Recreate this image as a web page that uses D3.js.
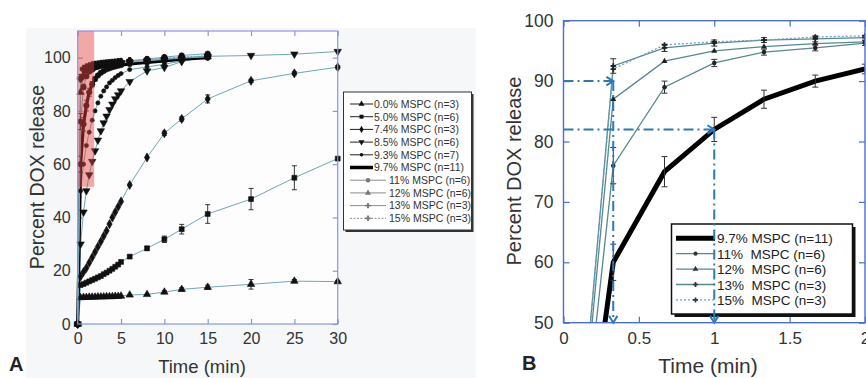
<!DOCTYPE html>
<html>
<head>
<meta charset="utf-8">
<script src="https://cdn.jsdelivr.net/npm/d3@7"></script>
<style>
  body { margin: 0; background: #fff; }
  svg { display: block; font-family: "Liberation Sans", Arial, sans-serif; }
</style>
</head>
<body>
<script>
// sampling times (min), panel B reuses the first seven
const timeA = [0, 0.33, 0.67, 1, 1.33, 1.67, 2, 2.33, 2.67, 3, 3.33, 3.67, 4, 4.33, 4.67, 5, 6, 8, 10, 12, 15, 20, 25, 30];

// percent DOX release per formulation
const mspc00 = [0, 9.9, 10, 10, 10.1, 10.1, 10.1, 10.2, 10.2, 10.2, 10.3, 10.3, 10.3, 10.4, 10.4, 10.5, 10.9, 11.1, 12, 13, 13.8, 14.9, 16.1, 15.9];
const mspc50 = [0, 14.6, 15, 15.5, 16, 16.5, 17, 17.5, 18, 18.7, 19.3, 20, 20.7, 21.5, 22.3, 23.3, 25.3, 28.4, 31.8, 35.6, 41.3, 46.9, 54.9, 62.1];
const mspc74 = [0, 17.8, 19.5, 21, 23, 25, 27, 29, 31, 33, 35, 37.5, 40, 42, 44, 46, 52.2, 62.5, 71.6, 77, 84.5, 91.3, 94.1, 96.4];
const mspc85 = [0, 30, 42, 50, 56, 61, 65, 69, 72.5, 75.5, 78, 80.5, 82.5, 84.5, 86, 87.5, 91, 95, 96.3, 98.5, 100.5, 100.8, 101.3, 102.3];
const mspc93 = [0, 50, 60, 67, 72, 76.5, 80, 83, 85.5, 87.5, 89, 90.5, 91.5, 92.5, 93.3, 94, 95.5, 96.5, 97.5, 98.8, 100];
const mspc97 = [0, 60, 75, 82, 87, 90, 92, 93.3, 94.3, 95, 95.6, 96, 96.4, 96.7, 97, 97.2, 97.6, 98.2, 98.8, 99.4, 100];
const mspc11 = [0, 76, 89, 93, 94.8, 95.5, 96.3, 96.6, 97, 97.3, 97.5, 97.7, 97.9, 98, 98.2, 98.4, 98.8, 99.5, 100.2, 100.8, 101.5];
const mspc12 = [0, 87, 93.3, 95, 95.7, 96.2, 96.5, 96.8, 97, 97.2, 97.4, 97.5, 97.7, 97.8, 97.9, 98, 98.3, 98.8, 99.3, 99.8, 100.3];
const mspc13 = [0, 92.5, 95.5, 96.3, 96.8, 97, 97.2, 97.4, 97.6, 97.7, 97.9, 98, 98.1, 98.2, 98.4, 98.5, 98.8, 99.2, 99.6, 100, 100.5];
const mspc15 = [0, 92, 96, 96.5, 96.8, 97.3, 97.5, 97.6, 97.8, 97.9, 98, 98.1, 98.2, 98.3, 98.4, 98.5, 98.8, 99.2, 99.8, 100.2, 100.8];

// error bar half-widths (0 = none drawn)
const err00 = [0, 0, 0, 0, 0, 0, 0, 0, 0, 0, 0, 0, 0, 0, 0, 0, 0, 0, 0.5, 0.6, 0.8, 1.8, 0.6, 0.5];
const err50 = [0, 0, 0, 0, 0, 0, 0, 0, 0, 0, 0, 0, 0, 0, 0, 0, 0.6, 0.8, 1.2, 1.8, 3.5, 4, 4.5, 0];
const err74 = [0, 0, 0, 0, 0, 0, 0, 0, 0, 0, 0, 0, 0, 0, 0, 0, 0, 0, 0.8, 0.8, 1.5, 0.6, 0.6, 0.6];
const err97 = [0, 3, 2.5, 2, 1.5, 1, 0.8];
const err11 = [0, 3, 1, 0.6, 0.5, 0.5, 0.4];
const err13 = [0, 1.2, 0.6, 0.5, 0.4, 0.5, 0.4];

const seriesNames = ["0.0% MSPC (n=3)", "5.0% MSPC (n=6)", "7.4% MSPC (n=3)", "8.5% MSPC (n=6)", "9.3% MSPC (n=7)",
                     "9.7% MSPC (n=11)", "11% MSPC (n=6)", "12% MSPC (n=6)", "13% MSPC (n=3)", "15% MSPC (n=3)"];
const legendB = ["9.7% MSPC (n=11)", "11%  MSPC (n=6)", "12%  MSPC (n=6)", "13%  MSPC (n=3)", "15%  MSPC (n=3)"];

const ticksAx = [0, 5, 10, 15, 20, 25, 30];
const ticksAy = [0, 20, 40, 60, 80, 100];
const ticksBx = [0, 0.5, 1, 1.5, 2];
const ticksBy = [50, 60, 70, 80, 90, 100];

// highlighted zoom window in panel A (data units)
const zoomBox = {t0: 0, t1: 1.9, y0: 51.5, y1: 110};
// annotation arrows in panel B: [t0, v0, t1, v1]
const arrowsB = [[0, 90, 0.33, 90], [0.33, 90, 0.33, 50], [0, 82, 1, 82], [1, 82, 1, 50]];

const series = [
  {v: mspc00, e: err00, sym: d3.symbolTriangle},
  {v: mspc50, e: err50, sym: d3.symbolSquare},
  {v: mspc74, e: err74, sym: d3.symbolDiamond},
  {v: mspc85, e: null, sym: d3.symbolTriangle, down: true},
  {v: mspc93, e: null, sym: d3.symbolCircle, small: true},
  {v: mspc97, e: err97, sym: null, thick: true},
  {v: mspc11, e: err11, sym: d3.symbolCircle},
  {v: mspc12, e: null, sym: d3.symbolTriangle},
  {v: mspc13, e: err13, sym: d3.symbolCross},
  {v: mspc15, e: null, sym: d3.symbolCross, dotted: true}
];
series.forEach((s, i) => s.name = seriesNames[i]);

const svg = d3.select("body").append("svg").attr("width", 866).attr("height", 378);

// faint grey paper behind panel A
svg.append("rect").attr("x", 26).attr("y", 28).attr("width", 450).attr("height", 350).attr("fill", "#f6f7f9");

function toPts(s, n) {
  return s.v.slice(0, n).map((v, i) => ({t: timeA[i], v: v, e: s.e ? s.e[i] : 0}));
}

// ---------------- Panel A ----------------
const xA = d3.scaleLinear().domain([0, 30]).range([77.7, 337.7]);
const yA = d3.scaleLinear().domain([0, 110]).range([324, 31]);
const gA = svg.append("g");
gA.append("rect").attr("x", 77.7).attr("y", 31).attr("width", 260).attr("height", 293).attr("fill", "#fdfdfe");

const axA = "#8796e3";
function styleAxis(g, col) {
  g.select(".domain").remove();
  g.selectAll(".tick line").attr("stroke", col).attr("stroke-width", 1.2);
  g.selectAll(".tick text").attr("fill", "#333").attr("font-family", "Liberation Sans, Arial, sans-serif");
}
gA.append("g").attr("transform", "translate(0,324)")
  .call(d3.axisBottom(xA).tickValues(ticksAx).tickSizeInner(-5).tickSizeOuter(0).tickPadding(9))
  .call(g => styleAxis(g, axA)).selectAll("text").attr("font-size", 16);
gA.append("g").attr("transform", "translate(0,31)")
  .call(d3.axisTop(xA).tickValues(ticksAx).tickSizeInner(-5).tickSizeOuter(0).tickFormat(""))
  .call(g => styleAxis(g, axA));
gA.append("g").attr("transform", "translate(77.7,0)")
  .call(d3.axisLeft(yA).tickValues(ticksAy).tickSizeInner(-5).tickSizeOuter(0).tickPadding(7))
  .call(g => styleAxis(g, axA)).selectAll("text").attr("font-size", 16);
gA.append("g").attr("transform", "translate(337.7,0)")
  .call(d3.axisRight(yA).tickValues(ticksAy).tickSizeInner(-5).tickSizeOuter(0).tickFormat(""))
  .call(g => styleAxis(g, axA));

const lineA = d3.line().x(d => xA(d.t)).y(d => yA(d.v));
series.forEach(s => {
  const pts = toPts(s, s.v.length);
  gA.append("path").datum(pts).attr("d", lineA).attr("fill", "none")
    .attr("stroke", s.thick ? "#000" : "#6fa7b5").attr("stroke-width", s.thick ? 3.2 : 1)
    .attr("stroke-dasharray", s.dotted ? "2,1.5" : null);
});
series.forEach(s => {
  const pts = toPts(s, s.v.length);
  const eb = gA.append("g").attr("stroke", "#222").attr("stroke-width", 0.9);
  pts.filter(d => d.e > 0).forEach(d => {
    eb.append("line").attr("x1", xA(d.t)).attr("x2", xA(d.t)).attr("y1", yA(d.v - d.e)).attr("y2", yA(d.v + d.e));
    eb.append("line").attr("x1", xA(d.t) - 2.5).attr("x2", xA(d.t) + 2.5).attr("y1", yA(d.v - d.e)).attr("y2", yA(d.v - d.e));
    eb.append("line").attr("x1", xA(d.t) - 2.5).attr("x2", xA(d.t) + 2.5).attr("y1", yA(d.v + d.e)).attr("y2", yA(d.v + d.e));
  });
  const sym = s.sym || d3.symbolCircle;
  gA.append("g").selectAll("path").data(pts).join("path")
    .attr("d", d3.symbol().type(sym).size(s.small ? 14 : 24))
    .attr("transform", d => `translate(${xA(d.t)},${yA(d.v)})${s.down ? " rotate(180)" : ""}`)
    .attr("fill", "#111").attr("stroke", "#111").attr("stroke-width", 0.6);
});

// pink highlight of the region enlarged in B
gA.append("rect")
  .attr("x", xA(zoomBox.t0)).attr("y", yA(zoomBox.y1))
  .attr("width", xA(zoomBox.t1) - xA(zoomBox.t0)).attr("height", yA(zoomBox.y0) - yA(zoomBox.y1))
  .attr("fill", "#e2403f").attr("opacity", 0.45);

gA.append("rect").attr("x", 77.7).attr("y", 31).attr("width", 260).attr("height", 293)
  .attr("fill", "none").attr("stroke", axA).attr("stroke-width", 1.2);

gA.append("text").attr("transform", "translate(44,177) rotate(-90)").attr("text-anchor", "middle")
  .attr("font-size", 19.5).attr("fill", "#333").text("Percent DOX release");
gA.append("text").attr("x", 202).attr("y", 372.5).attr("text-anchor", "middle")
  .attr("font-size", 18.5).attr("fill", "#333").text("Time (min)");
gA.append("text").attr("x", 9).attr("y", 371).attr("font-size", 20).attr("font-weight", "bold")
  .attr("fill", "#222").text("A");

// legend A
const legA = gA.append("g");
legA.append("rect").attr("x", 345.5).attr("y", 94).attr("width", 128).attr("height", 138).attr("fill", "#333");
legA.append("rect").attr("x", 343.5).attr("y", 92).attr("width", 128).attr("height", 138)
  .attr("fill", "#fff").attr("stroke", "#333").attr("stroke-width", 1);
series.forEach((s, i) => {
  const y = 104 + i * 12.7;
  const grey = i >= 6;
  const x0 = 350, x1 = grey ? 386 : 373, tx = grey ? 389 : 374;
  legA.append("line").attr("x1", x0).attr("x2", x1).attr("y1", y).attr("y2", y)
    .attr("stroke", s.thick ? "#000" : (grey ? "#8a8a8a" : "#222"))
    .attr("stroke-width", s.thick ? 3.5 : 1).attr("stroke-dasharray", s.dotted ? "2,1.5" : null);
  if (s.sym) {
    legA.append("path").attr("d", d3.symbol().type(s.sym).size(s.small ? 10 : 16))
      .attr("transform", `translate(${(x0 + x1) / 2},${y})${s.down ? " rotate(180)" : ""}`)
      .attr("fill", grey ? "#777" : "#111");
  }
  legA.append("text").attr("x", tx).attr("y", y + 3.8).attr("font-size", 10.5)
    .attr("fill", "#333").text(s.name);
});

// ---------------- Panel B ----------------
const xB = d3.scaleLinear().domain([0, 2]).range([563.5, 865]);
const yB = d3.scaleLinear().domain([50, 100]).range([322.7, 20.7]);
const gB = svg.append("g");
const axB = "#4a6fd0";
svg.append("clipPath").attr("id", "clipB").append("rect")
  .attr("x", 563.5).attr("y", 20.7).attr("width", 301.5).attr("height", 302);

gB.append("g").attr("transform", "translate(0,322.7)")
  .call(d3.axisBottom(xB).tickValues(ticksBx).tickSizeInner(-6).tickSizeOuter(0).tickPadding(9).tickFormat(d3.format("")))
  .call(g => styleAxis(g, axB)).selectAll("text").attr("font-size", 17);
gB.append("g").attr("transform", "translate(0,20.7)")
  .call(d3.axisTop(xB).tickValues(ticksBx).tickSizeInner(-6).tickSizeOuter(0).tickFormat(""))
  .call(g => styleAxis(g, axB));
gB.append("g").attr("transform", "translate(563.5,0)")
  .call(d3.axisLeft(yB).tickValues(ticksBy).tickSizeInner(-6).tickSizeOuter(0).tickPadding(10))
  .call(g => styleAxis(g, axB)).selectAll("text").attr("font-size", 17.5);
gB.append("g").attr("transform", "translate(865,0)")
  .call(d3.axisRight(yB).tickValues(ticksBy).tickSizeInner(-6).tickSizeOuter(0).tickFormat(""))
  .call(g => styleAxis(g, axB));

const plotB = gB.append("g").attr("clip-path", "url(#clipB)");
const lineB = d3.line().x(d => xB(d.t)).y(d => yB(d.v));
const seriesB = series.slice(5);
seriesB.forEach(s => {
  const pts = toPts(s, 7);
  plotB.append("path").datum(pts).attr("d", lineB).attr("fill", "none")
    .attr("stroke", s.thick ? "#000" : (s.dotted ? "#6f9fc4" : "#55898f"))
    .attr("stroke-width", s.thick ? 5 : 1.3).attr("stroke-dasharray", s.dotted ? "2,2" : null);
});
seriesB.forEach(s => {
  const pts = toPts(s, 7);
  const eb = plotB.append("g").attr("stroke", "#333").attr("stroke-width", 1);
  pts.filter(d => d.e > 0).forEach(d => {
    eb.append("line").attr("x1", xB(d.t)).attr("x2", xB(d.t)).attr("y1", yB(d.v - d.e)).attr("y2", yB(d.v + d.e));
    eb.append("line").attr("x1", xB(d.t) - 3).attr("x2", xB(d.t) + 3).attr("y1", yB(d.v - d.e)).attr("y2", yB(d.v - d.e));
    eb.append("line").attr("x1", xB(d.t) - 3).attr("x2", xB(d.t) + 3).attr("y1", yB(d.v + d.e)).attr("y2", yB(d.v + d.e));
  });
  if (s.sym) {
    plotB.append("g").selectAll("path").data(pts).join("path")
      .attr("d", d3.symbol().type(s.sym).size(16))
      .attr("transform", d => `translate(${xB(d.t)},${yB(d.v)})`)
      .attr("fill", "#222");
  }
});

// legend B
const legBg = gB.append("g");
legBg.append("rect").attr("x", 674.5).attr("y", 227).attr("width", 181).attr("height", 90).attr("fill", "#111");
legBg.append("rect").attr("x", 671.5).attr("y", 224).attr("width", 181).attr("height", 90)
  .attr("fill", "#fff").attr("stroke", "#111").attr("stroke-width", 1.5);
seriesB.forEach((s, i) => {
  const y = 238.3 + i * 15.4;
  legBg.append("line").attr("x1", 676).attr("x2", 715).attr("y1", y).attr("y2", y)
    .attr("stroke", s.thick ? "#000" : (s.dotted ? "#6f9fc4" : "#55898f"))
    .attr("stroke-width", s.thick ? 5 : 1.3).attr("stroke-dasharray", s.dotted ? "2,2" : null);
  if (s.sym) {
    legBg.append("path").attr("d", d3.symbol().type(s.sym).size(14))
      .attr("transform", `translate(695.5,${y})`).attr("fill", "#333");
  }
  legBg.append("text").attr("x", 717).attr("y", y + 5).attr("font-size", 13.5)
    .attr("fill", "#222").style("white-space", "pre").text(legendB[i]);
});

// dash-dot arrows
const arrowG = gB.append("g").attr("stroke", "#2c79b8").attr("stroke-width", 2).attr("fill", "none");
arrowsB.forEach(a => {
  const x1 = xB(a[0]), y1 = yB(a[1]), x2 = xB(a[2]), y2 = yB(a[3]);
  arrowG.append("line").attr("x1", x1).attr("y1", y1).attr("x2", x2).attr("y2", y2)
    .attr("stroke-dasharray", "10,4,2,4");
  const ang = Math.atan2(y2 - y1, x2 - x1), L = 8, w = 0.55;
  arrowG.append("path").attr("stroke-dasharray", null)
    .attr("d", `M${x2 - L * Math.cos(ang - w)},${y2 - L * Math.sin(ang - w)} L${x2},${y2} L${x2 - L * Math.cos(ang + w)},${y2 - L * Math.sin(ang + w)}`);
});

gB.append("rect").attr("x", 563.5).attr("y", 20.7).attr("width", 301.5).attr("height", 302)
  .attr("fill", "none").attr("stroke", axB).attr("stroke-width", 1.4);

gB.append("text").attr("transform", "translate(521,171) rotate(-90)").attr("text-anchor", "middle")
  .attr("font-size", 20).attr("fill", "#333").text("Percent DOX release");
gB.append("text").attr("x", 708).attr("y", 372.5).attr("text-anchor", "middle")
  .attr("font-size", 21).attr("fill", "#333").text("Time (min)");
gB.append("text").attr("x", 522).attr("y", 370).attr("font-size", 20).attr("font-weight", "bold")
  .attr("fill", "#222").text("B");
</script>
</body>
</html>
